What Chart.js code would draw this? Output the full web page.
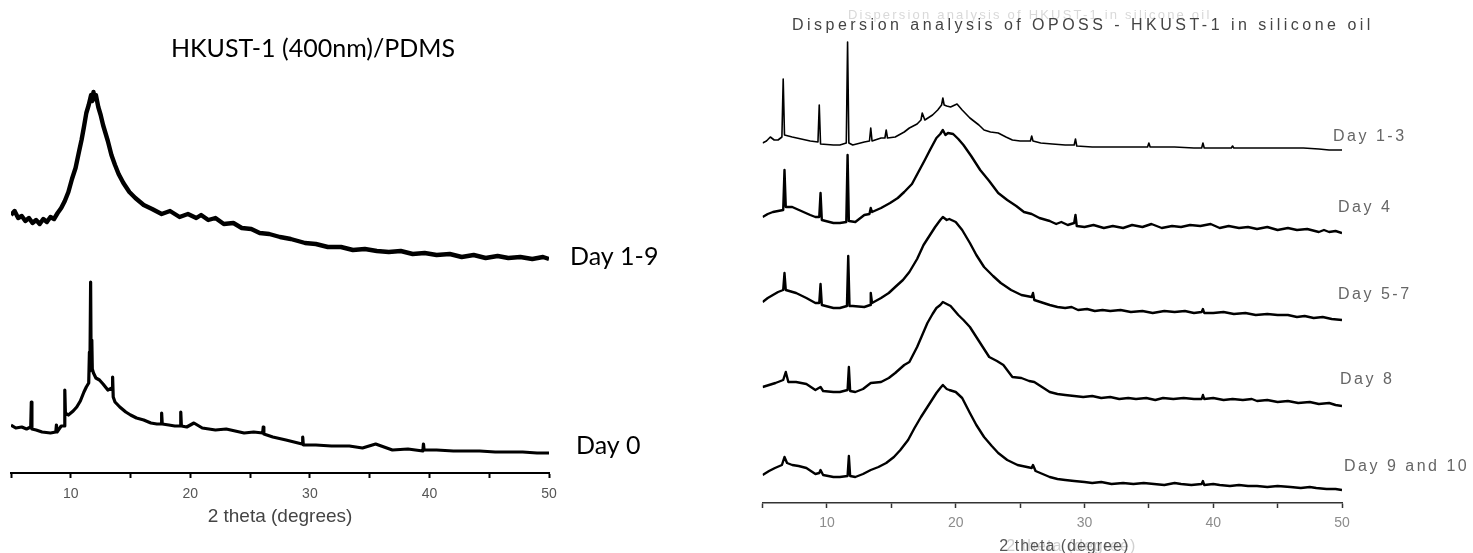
<!DOCTYPE html>
<html lang="en">
<head>
<meta charset="UTF-8">
<title>HKUST-1 XRD patterns</title>
<style>
  body { margin: 0; background: #fff; width: 1473px; height: 553px; overflow: hidden; position: relative; }
  canvas { position: absolute; top: 0; }
  #pdmsChart { left: 0; }
  #oilChart { left: 700px; }
</style>
</head>
<body>
<canvas id="pdmsChart" width="700" height="553"></canvas>
<canvas id="oilChart" width="773" height="553"></canvas>

<script src="https://cdn.jsdelivr.net/npm/chart.js@4"></script>
<script>
// ---- HKUST-1 (400nm)/PDMS, offset intensities (a.u.) ----
const day19Theta = [5.0,5.3,5.6,5.9,6.2,6.5,6.8,7.1,7.4,7.7,8.0,8.3,8.6,8.9,9.2,9.5,9.8,10.1,10.4,10.7,
  10.9,11.1,11.3,11.5,11.7,11.8,11.9,12.0,12.1,12.3,12.5,12.7,12.9,13.1,13.4,13.7,14.0,14.4,14.9,15.4,
  16.1,16.8,17.6,18.3,19.1,19.8,20.5,20.9,21.5,22.1,22.8,23.6,24.3,25.1,25.8,26.6,27.5,28.4,29.6,30.5,
  31.5,32.6,33.6,34.6,35.6,36.6,37.6,38.6,39.6,40.6,41.7,42.7,43.7,44.7,45.7,46.6,47.6,48.6,49.5,50.0];
const day19Counts = [258,262,255,257,252,255,250,253,249,254,251,256,254,260,265,272,281,294,305,322,
  333,346,360,368,378,372,381,374,378,366,358,348,340,332,318,308,299,290,281,275,
  268,264,259,262,256,259,255,258,253,255,249,250,245,244,240,239,236,234,230,229,
  226,226,223,224,222,221,222,219,220,218,219,216,218,215,217,215,216,214,216,214];

const day0Theta = [5.0,5.4,5.9,6.3,6.65,6.7,6.75,7.1,7.6,8.3,8.75,8.8,8.85,9.2,9.45,9.5,9.55,9.8,10.2,10.5,
  10.8,11.1,11.3,11.5,11.56,11.6,11.66,11.7,11.76,11.8,11.9,12.1,12.4,12.7,13.1,13.45,13.5,13.55,13.7,14.1,
  14.6,15.0,15.5,16.1,16.7,17.2,17.55,17.6,17.65,18.2,18.7,19.15,19.2,19.25,19.7,20.3,21.0,22.1,23.0,24.5,
  25.3,26.05,26.1,26.15,26.9,28.0,29.35,29.4,29.45,30.5,31.8,33.3,34.4,35.5,36.9,38.2,39.45,39.5,39.55,40.6,
  42.0,43.2,44.2,45.5,46.7,47.8,49.0,50.0];
const day0Counts = [48,45,46,44,46,71,44,43,41,40,41,48,41,47,47,83,60,58,62,66,
  72,81,86,90,121,102,191,112,133,104,100,95,93,89,83,85,96,76,71,66,
  61,58,55,53,50,49,49,60,49,48,47,47,61,47,46,50,45,43,44,40,
  41,40,46,39,36,33,29,36,28,28,27,27,25,29,23,24,22,29,23,23,
  22,22,22,21,21,21,20,20];

// ---- OPOSS - HKUST-1 in silicone oil, offset intensities (a.u.) ----
const d13Theta = [5.0,5.3,5.6,5.9,6.2,6.5,6.6,6.7,7.3,8.0,8.7,9.3,9.4,9.5,10.5,11.0,11.5,11.6,11.7,12.0,
  12.9,13.3,13.4,13.5,14.2,14.5,14.6,14.7,15.3,16.0,16.4,17.0,17.3,17.4,17.6,18.2,18.6,18.9,19.0,19.1,
  19.3,19.6,20.1,20.5,21.1,21.8,22.2,22.7,23.3,23.9,24.4,25.0,25.8,25.9,26.0,26.6,27.5,28.5,29.2,29.3,
  29.4,30.6,32.0,33.5,34.9,35.0,35.1,37.0,38.5,39.1,39.2,39.3,41.4,41.5,41.6,43.0,45.0,47.0,48.2,49.0,50.0];
const d13Counts = [360,362,366,363,363,366,424,368,366,364,362,361,398,359,358,358,360,461,360,358,
  361,362,375,362,365,365,373,365,366,371,375,379,383,390,383,388,393,398,405,398,
  397,396,399,393,385,378,373,371,370,366,363,362,362,367,362,360,359,358,358,364,
  357,356,356,356,356,360,356,356,355,355,360,355,355,357,355,355,355,355,354,353,353];

const d4Theta = [5.0,5.4,5.8,6.2,6.6,6.7,6.8,7.3,8.0,8.7,9.1,9.4,9.5,9.6,10.5,11.0,11.5,11.6,11.7,12.2,
  12.9,13.3,13.4,13.5,14.2,14.9,15.5,16.0,16.6,17.1,17.6,18.0,18.5,18.8,19.0,19.2,19.4,19.8,20.2,20.6,
  21.2,21.9,22.6,23.3,24.0,24.7,25.3,25.9,26.5,27.3,27.8,28.2,28.7,29.2,29.3,29.4,30.0,30.7,31.5,32.2,
  33.0,33.7,34.5,35.2,36.0,36.8,37.5,38.2,39.0,39.8,40.5,41.2,42.0,42.7,43.4,44.2,45.0,45.8,46.5,47.3,
  48.2,48.6,49.0,49.5,50.0];
const d4Counts = [286,289,291,292,293,333,296,296,292,288,286,286,310,283,280,280,281,348,282,281,
  288,289,295,291,295,300,305,311,319,331,343,353,365,369,373,368,370,369,364,358,
  347,333,322,310,303,297,291,289,285,282,279,281,278,280,288,277,276,278,275,277,
  275,278,276,279,275,277,276,278,277,279,275,277,275,276,274,276,273,275,273,274,
  271,273,271,272,270];

const d57Theta = [5.0,5.4,5.8,6.2,6.6,6.7,6.8,7.6,8.4,9.1,9.4,9.5,9.6,10.5,11.0,11.55,11.65,11.75,12.0,12.9,
  13.35,13.4,13.5,14.2,14.8,15.3,15.9,16.4,17.0,17.5,18.0,18.4,18.8,19.0,19.3,19.5,20.0,20.5,21.1,21.6,
  22.2,22.9,23.5,24.3,25.1,25.9,26.0,26.1,27.3,27.9,28.5,29.0,29.5,30.2,30.8,31.4,32.0,32.8,33.6,34.5,
  35.3,36.2,37.0,37.8,38.5,39.1,39.2,39.3,40.0,40.8,41.6,42.5,43.3,44.2,45.0,45.8,46.5,47.1,47.8,48.5,
  49.2,50.0];
const d57Counts = [201,205,208,211,213,230,213,210,205,200,200,219,198,195,195,197,247,197,197,196,
  198,210,200,205,210,216,223,231,244,258,268,276,283,286,283,284,281,273,260,248,
  236,227,220,213,208,206,210,203,198,196,195,196,193,194,192,193,192,193,191,192,
  190,192,191,192,190,191,194,190,190,191,189,190,188,189,188,188,186,187,185,186,
  184,183];

const d8Theta = [5.0,5.5,6.0,6.6,6.8,7.0,7.6,8.4,9.1,9.5,9.7,10.5,11.0,11.6,11.7,11.8,12.2,12.8,13.4,14.2,
  14.8,15.3,16.0,16.4,17.0,17.4,17.8,18.2,18.5,18.8,19.0,19.3,19.6,20.2,20.6,21.1,21.8,22.6,23.2,23.7,
  24.4,25.1,25.7,26.1,26.7,27.3,27.9,28.5,29.2,29.9,30.6,31.3,32.0,32.7,33.4,34.0,34.8,35.5,36.1,36.9,
  37.7,38.5,39.1,39.2,39.3,40.0,40.8,41.5,42.3,43.0,43.4,44.2,45.0,45.8,46.6,47.5,48.2,49.0,49.5,50.0];
const d8Counts = [116,118,120,123,131,121,121,119,113,116,112,111,111,113,136,112,111,114,120,121,
  125,130,138,141,156,168,180,189,195,198,201,199,197,188,183,176,162,146,142,138,
  126,125,122,121,116,111,109,108,107,106,107,105,106,104,105,104,105,103,105,104,
  105,104,104,108,104,105,103,104,103,104,102,103,101,102,100,101,99,100,98,97];

const d910Theta = [5.0,5.5,5.96,6.5,6.7,6.9,7.3,7.8,8.4,9.1,9.4,9.5,9.7,10.5,11.0,11.6,11.7,11.8,12.2,12.8,
  13.4,14.0,14.6,15.2,15.7,16.3,16.8,17.3,17.8,18.2,18.5,18.8,19.0,19.3,19.5,20.0,20.5,21.1,21.6,22.2,
  22.8,23.3,24.0,24.8,25.9,26.0,26.2,27.3,27.9,28.5,29.2,30.0,30.6,31.3,32.1,33.0,33.8,34.6,35.4,36.2,
  37.0,37.5,38.3,39.1,39.2,39.3,40.0,40.5,41.3,42.0,42.7,43.4,44.2,45.0,46.0,46.8,47.5,48.0,48.8,49.5,50.0];
const d910Counts = [28,32,35,38,46,40,38,37,35,29,30,33,28,26,26,27,47,27,26,29,
  33,36,40,46,53,63,75,86,96,104,110,115,118,114,113,111,105,90,78,66,
  57,50,43,38,35,38,32,26,24,23,22,21,20,21,19,20,19,20,19,18,
  20,19,18,19,22,18,19,18,17,18,17,17,16,17,16,15,16,15,14,14,13];

const pdmsLabels = ['Day 1-9', 'Day 0'];
const oilLabels = ['Day 1-3', 'Day 4', 'Day 5-7', 'Day 8', 'Day 9 and 10'];

// where each trace label sits relative to the trace's last point (px)
const pdmsLabelOffsets = [[21, 6], [27, 1]];
const oilLabelOffsets = [[-9, -9], [-4, -21], [-4, -21], [-2, -22], [2, -19]];

Chart.defaults.font.family = "'Liberation Sans', Arial, sans-serif";

function series(xs, ys) {
  return xs.map((x, i) => ({ x: x, y: ys[i] }));
}

function trace(label, xs, ys, width) {
  return {
    label: label,
    data: series(xs, ys),
    borderColor: '#000',
    borderWidth: width,
    borderJoinStyle: 'round',
    pointRadius: 0,
    tension: 0
  };
}

function lastPoint(chart, i) {
  const pts = chart.getDatasetMeta(i).data;
  return pts[pts.length - 1];
}

// left panel
new Chart(document.getElementById('pdmsChart'), {
  type: 'line',
  data: {
    datasets: [
      trace(pdmsLabels[0], day19Theta, day19Counts, 4.4),
      trace(pdmsLabels[1], day0Theta, day0Counts, 3.2)
    ]
  },
  options: {
    responsive: false,
    animation: false,
    devicePixelRatio: 1,
    layout: { padding: { left: 11, right: 151, top: 40, bottom: 0 } },
    plugins: { legend: { display: false }, tooltip: { enabled: false } },
    scales: {
      x: {
        type: 'linear', min: 5, max: 50,
        afterFit: s => { s.height = 80; },
        border: { display: true, color: '#000', width: 2 },
        grid: { drawOnChartArea: false, tickLength: 5, tickColor: '#000', tickWidth: 2 },
        ticks: {
          stepSize: 5, autoSkip: false, maxRotation: 0, padding: 8,
          color: '#555', font: { size: 14 },
          callback: v => (v % 10 === 0 ? v : '')
        },
        title: {
          display: true, text: '2 theta (degrees)', color: '#444',
          font: { size: 19 }, padding: { top: 0, bottom: 25 }
        }
      },
      y: { display: false, min: 0, max: 433 }
    }
  },
  plugins: [{
    id: 'pdmsText',
    afterDraw(chart) {
      const ctx = chart.ctx;
      ctx.save();
      ctx.fillStyle = '#000';
      ctx.font = '25px Lato';
      ctx.textAlign = 'center';
      ctx.fillText('HKUST-1 (400nm)/PDMS', 313, 57);
      ctx.textAlign = 'left';
      pdmsLabels.forEach((text, i) => {
        const end = lastPoint(chart, i);
        ctx.fillText(text, end.x + pdmsLabelOffsets[i][0], end.y + pdmsLabelOffsets[i][1]);
      });
      ctx.restore();
    }
  }]
});

// right panel
new Chart(document.getElementById('oilChart'), {
  type: 'line',
  data: {
    datasets: [
      trace(oilLabels[0], d13Theta, d13Counts, 1.6),
      trace(oilLabels[1], d4Theta, d4Counts, 2.4),
      trace(oilLabels[2], d57Theta, d57Counts, 2.4),
      trace(oilLabels[3], d8Theta, d8Counts, 2.4),
      trace(oilLabels[4], d910Theta, d910Counts, 2.4)
    ]
  },
  options: {
    responsive: false,
    animation: false,
    devicePixelRatio: 1,
    layout: { padding: { left: 62.6, right: 131, top: 20, bottom: 0 } },
    plugins: { legend: { display: false }, tooltip: { enabled: false } },
    scales: {
      x: {
        type: 'linear', min: 5, max: 50,
        afterFit: s => { s.height = 50; },
        border: { display: true, color: '#333', width: 1.5 },
        grid: { drawOnChartArea: false, tickLength: 5, tickColor: '#333', tickWidth: 1.5 },
        ticks: {
          stepSize: 5, autoSkip: false, maxRotation: 0, padding: 7,
          color: '#8c8c8c', font: { size: 14 },
          callback: v => (v % 10 === 0 ? v : '')
        }
      },
      y: { display: false, min: 0, max: 483 }
    }
  },
  plugins: [{
    id: 'oilText',
    beforeDraw(chart) {
      // faint leftover lettering behind the headings
      const ctx = chart.ctx;
      const x = chart.scales.x;
      ctx.save();
      ctx.fillStyle = '#d9d9d9';
      ctx.font = '13px "Liberation Sans"';
      ctx.letterSpacing = '2.2px';
      ctx.fillText('Dispersion analysis of HKUST-1 in silicone oil', 148, 19);
      ctx.fillStyle = '#d0d0d0';
      ctx.font = '16px "Liberation Sans"';
      ctx.letterSpacing = '1px';
      ctx.textAlign = 'center';
      ctx.fillText('2 theta (degree)', (x.left + x.right) / 2 + 19, 551);
      ctx.restore();
    },
    afterDraw(chart) {
      const ctx = chart.ctx;
      const x = chart.scales.x;
      ctx.save();
      // heading, spread out to its printed width
      const title = 'Dispersion analysis of OPOSS - HKUST-1 in silicone oil';
      ctx.font = '16px "Liberation Sans"';
      ctx.fillStyle = '#444';
      const plain = ctx.measureText(title).width;
      ctx.letterSpacing = ((582 - plain) / title.length).toFixed(2) + 'px';
      ctx.fillText(title, 92, 30);

      ctx.letterSpacing = '1px';
      ctx.fillStyle = '#555';
      ctx.textAlign = 'center';
      ctx.fillText('2 theta (degree)', (x.left + x.right) / 2 + 12, 551);

      ctx.textAlign = 'left';
      ctx.fillStyle = '#666';
      ctx.letterSpacing = '2.5px';
      oilLabels.forEach((text, i) => {
        const end = lastPoint(chart, i);
        ctx.fillText(text, end.x + oilLabelOffsets[i][0], end.y + oilLabelOffsets[i][1]);
      });
      ctx.restore();
    }
  }]
});
</script>
</body>
</html>
